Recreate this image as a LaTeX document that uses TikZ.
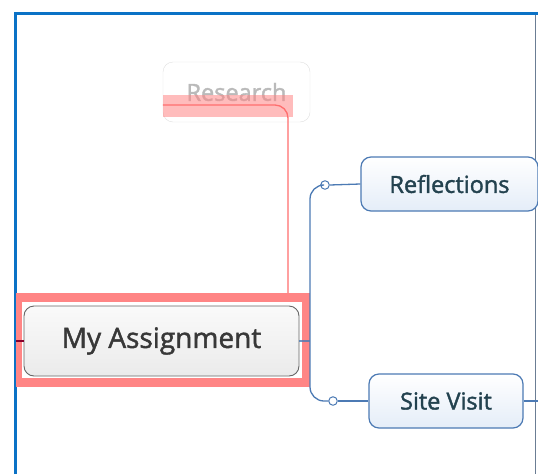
\documentclass[tikz,border=0pt]{standalone}
\usepackage{fontspec}
\setmainfont{Open Sans}
\newfontfamily\mapfont{Open Sans}[FakeBold=1.6]
\usetikzlibrary{positioning}
\definecolor{framebl}{HTML}{0B72C6}
\definecolor{linebl}{HTML}{4C7AB4}
\definecolor{hlpink}{HTML}{FF8585}
\definecolor{redln}{HTML}{FF6E6E}
\definecolor{txtsl}{HTML}{23424F}
\definecolor{topicbg}{HTML}{E4EDF8}
\begin{document}
\begin{tikzpicture}[x=1pt,y=-1pt,
  topic/.style={rectangle,rounded corners=10pt,draw=linebl,line width=1.2pt,
    top color=white,bottom color=topicbg,text=txtsl,font=\mapfont\fontsize{23.5}{28}\selectfont,
    minimum height=54pt,inner sep=0pt},
  knob/.style={circle,draw=linebl,fill=white,line width=1pt,minimum size=8.5pt,inner sep=0pt},
  blueln/.style={draw=linebl,line width=1.3pt}]
\useasboundingbox (0,0) rectangle (538,474);
\fill[white] (0,0) rectangle (538,474);

% frame of the sheet
\draw[gray!60!linebl,line width=1pt] (535,13) -- (535,474);
\draw[framebl,line width=3pt] (15,474) -- (15,13) -- (538,13);

% greyed out topic
\node[rectangle,rounded corners=10pt,draw=black!12,fill=white,text=black!27,
  minimum width=147pt,minimum height=60pt,font=\mapfont\fontsize{23.5}{28}\selectfont] (resrch) at (236.5,92) {Research};
\fill[hlpink,opacity=0.55] (163,95) rectangle (293,117);
\coordinate (rtip) at (288,299);
\draw[redln,line width=1.3pt,rounded corners=13pt] (resrch.west |- 0,105) -| (rtip);

% central topic with its highlight
\fill[hlpink] (16,293) rectangle (310,387);
\fill[white] (22,302) rectangle (302,378);
\node[rectangle,rounded corners=10pt,draw=black!60,line width=0.9pt,top color=black!2,bottom color=black!8,
  text=black!78,minimum width=275pt,minimum height=70pt,font=\mapfont\fontsize{28}{33}\selectfont] (mainas) at (161.5,341) {My Assignment};

% subtopics
\node[topic,minimum width=177pt] (reflec) at (449.5,184) {Reflections};
\node[topic,minimum width=154pt] (sitevi) at (446,401) {Site Visit};

\node[knob] (kn1) at (325,185) {};
\node[knob] (kn2) at (333,401) {};
\coordinate (junc) at (310,341);
\coordinate (lend) at (16,341);
\coordinate (rend) at (538,401);

\draw[purple!70!black,line width=1.2pt] (lend) -- (mainas.west);
\draw[blueln,opacity=0.8] (mainas.east) -- (junc);
\draw[blueln,rounded corners=14pt] (kn1.west) -- (junc |- kn1) -- (junc |- kn2) -- (kn2.west);
\draw[blueln] (kn1.east) -- (reflec.west);
\draw[blueln] (kn2.east) -- (sitevi.west);
\draw[blueln] (sitevi.east) -- (rend);
\end{tikzpicture}
\end{document}
